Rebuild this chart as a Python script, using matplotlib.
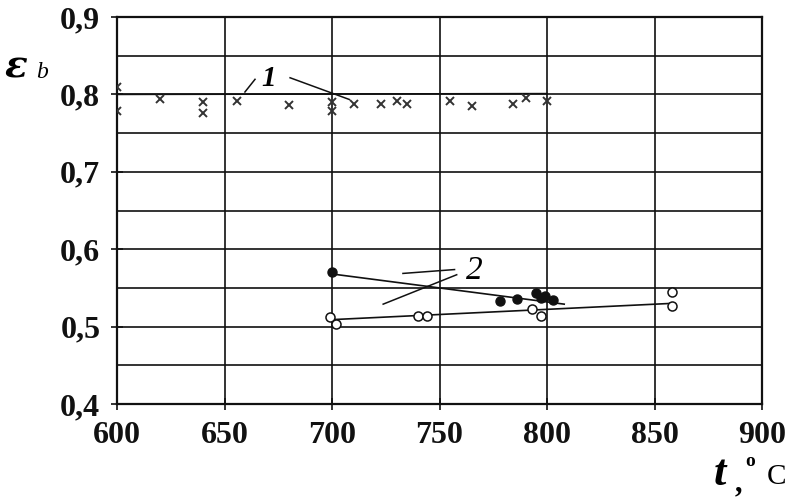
import matplotlib
matplotlib.use("Agg")
import matplotlib.pyplot as plt
import numpy as np

# Series 1 (crosses)
s1_t = [600, 600, 620, 640, 640, 656, 680, 700, 700, 710, 723, 730, 735, 755, 765, 784, 790, 800]
s1_e = [0.810, 0.778, 0.794, 0.790, 0.776, 0.791, 0.786, 0.790, 0.778, 0.787, 0.787, 0.791, 0.787, 0.791, 0.785, 0.788, 0.795, 0.792]
s1_fit_t = [600, 800]
s1_fit_e = [0.800, 0.801]

# Series 2 filled circles
s2f_t = [700, 778, 786, 795, 797, 799, 803]
s2f_e = [0.571, 0.533, 0.536, 0.543, 0.537, 0.540, 0.535]
s2f_fit_t = [700, 808]
s2f_fit_e = [0.568, 0.529]

# Series 2 open circles
s2o_t = [699, 702, 740, 744, 793, 797, 858, 858]
s2o_e = [0.513, 0.504, 0.514, 0.514, 0.523, 0.514, 0.545, 0.527]
s2o_fit_t = [700, 858]
s2o_fit_e = [0.509, 0.530]

xticks = [600, 650, 700, 750, 800, 850, 900]
yticks = [0.4, 0.5, 0.6, 0.7, 0.8, 0.9]
yticklabels = ["0,4", "0,5", "0,6", "0,7", "0,8", "0,9"]

fig = plt.figure(figsize=(7.92, 4.99), dpi=100)
ax = fig.add_axes([117/792, 1 - 404/499, (762 - 117)/792, (404 - 17)/499])

ax.set_xlim(600, 900)
ax.set_ylim(0.4, 0.9)

# grid
for x in range(600, 901, 50):
    ax.axvline(x, color="#111111", lw=1.2, zorder=1)
for y in np.arange(0.4, 0.9001, 0.05):
    ax.axhline(y, color="#111111", lw=1.2, zorder=1)

for sp in ax.spines.values():
    sp.set_linewidth(1.6)
    sp.set_color("#111111")

ax.set_xticks(xticks)
ax.set_xticklabels([str(v) for v in xticks])
ax.set_yticks(yticks)
ax.set_yticklabels(yticklabels)
ax.tick_params(direction="inout", length=8, width=1.2, pad=8,
               labelsize=23, colors="#111111")
for lab in ax.get_xticklabels() + ax.get_yticklabels():
    lab.set_fontfamily("Liberation Serif")
    lab.set_fontweight("bold")

# series 1
ax.plot(s1_fit_t, s1_fit_e, color="#111111", lw=1.2, zorder=2)
ax.plot(s1_t, s1_e, linestyle="none", marker="x", ms=5.5, mew=1.4,
        color="#333333", zorder=3)

# series 2
ax.plot(s2f_fit_t, s2f_fit_e, color="#111111", lw=1.2, zorder=2)
ax.plot(s2o_fit_t, s2o_fit_e, color="#111111", lw=1.2, zorder=2)
ax.plot(s2f_t, s2f_e, linestyle="none", marker="o", ms=6.5,
        color="#111111", zorder=4)
ax.plot(s2o_t, s2o_e, linestyle="none", marker="o", ms=6.5,
        mfc="white", mec="#111111", mew=1.1, zorder=4)

# annotations
ax.text(670.5, 0.821, "1", fontsize=21, fontfamily="Liberation Serif",
        fontstyle="italic", fontweight="bold", ha="center", va="center", zorder=5)
ax.plot([664.2, 659.5], [0.8195, 0.8031], color="#111111", lw=1.1, zorder=5)
ax.plot([680.5, 708.0], [0.8215, 0.7935], color="#111111", lw=1.1, zorder=5)

ax.text(766, 0.5716, "2", fontsize=24, fontfamily="Liberation Serif",
        fontstyle="italic", fontweight="normal", ha="center", va="center", zorder=5)
ax.plot([733, 757], [0.5687, 0.5737], color="#111111", lw=1.1, zorder=5)
ax.plot([758, 723.8], [0.567, 0.529], color="#111111", lw=1.1, zorder=5)

# axis labels
fig.text(5/792, 1 - 67/499, "ε", fontsize=27, fontfamily="DejaVu Serif",
         fontstyle="italic", fontweight="bold", ha="left", va="center")
fig.text(36/792, 1 - 72/499, "b", fontsize=17, fontfamily="Liberation Serif",
         fontstyle="italic", fontweight="normal", ha="left", va="center")

fig.text(720/792, 1 - 474/499, "t", fontsize=32, fontfamily="Liberation Serif",
         fontstyle="italic", fontweight="bold", ha="center", va="center")
fig.text(738/792, 1 - 484/499, ",", fontsize=22, fontfamily="Liberation Serif",
         fontweight="bold", ha="center", va="center")
fig.text(750/792, 1 - 462/499, "o", fontsize=14, fontfamily="Liberation Serif",
         fontweight="bold", ha="center", va="center")
fig.text(777/792, 1 - 477/499, "C", fontsize=21, fontfamily="Liberation Serif",
         fontweight="normal", ha="center", va="center")

fig.savefig("out.png", dpi=100)
